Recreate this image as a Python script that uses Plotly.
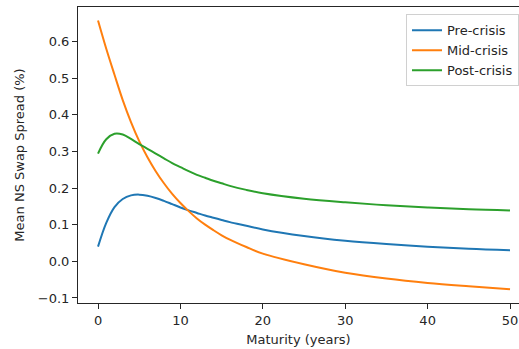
import plotly.graph_objects as go

maturity = [0, 1, 2, 3, 4, 5, 6, 7, 8, 9, 10, 11, 12, 13, 14, 15, 16, 18, 20, 25, 30, 35, 40, 45, 50]
pre_crisis = [0.040, 0.105, 0.148, 0.170, 0.180, 0.182, 0.179, 0.173, 0.165, 0.156, 0.147, 0.139, 0.132, 0.125, 0.119, 0.113, 0.107, 0.097, 0.087, 0.069, 0.056, 0.047, 0.040, 0.034, 0.030]
mid_crisis = [0.657, 0.580, 0.509, 0.440, 0.380, 0.328, 0.284, 0.246, 0.213, 0.184, 0.159, 0.137, 0.117, 0.100, 0.085, 0.071, 0.059, 0.039, 0.021, -0.008, -0.031, -0.047, -0.059, -0.068, -0.076]
post_crisis = [0.294, 0.333, 0.348, 0.346, 0.334, 0.320, 0.307, 0.294, 0.281, 0.268, 0.257, 0.246, 0.236, 0.228, 0.220, 0.213, 0.206, 0.195, 0.186, 0.171, 0.161, 0.153, 0.147, 0.142, 0.139]

series = [
    ("Pre-crisis", pre_crisis, "#1f77b4"),
    ("Mid-crisis", mid_crisis, "#ff7f0e"),
    ("Post-crisis", post_crisis, "#2ca02c"),
]

fig = go.Figure()
for name, vals, color in series:
    fig.add_trace(go.Scatter(x=maturity, y=vals, name=name, mode="lines",
                             line=dict(color=color, width=2, shape="spline", smoothing=1.0)))

txt = "#262626"
fig.update_layout(
    width=519, height=349,
    margin=dict(l=78, r=0, t=7, b=46),
    paper_bgcolor="white", plot_bgcolor="white",
    font=dict(family="DejaVu Sans", size=13, color=txt),
    showlegend=True,
    legend=dict(x=1, xanchor="right", y=0.975, yanchor="top",
                bgcolor="rgba(255,255,255,0.8)", bordercolor="#d0d0d0", borderwidth=1,
                font=dict(family="DejaVu Sans", size=13, color=txt),
                tracegroupgap=0, itemwidth=30),
    xaxis=dict(range=[-2.43, 51.09], tickvals=[0, 10, 20, 30, 40, 50],
               showgrid=False, zeroline=False, showline=True, linecolor=txt,
               linewidth=1, mirror=True, ticks="outside", ticklen=5, tickcolor=txt,
               tickfont=dict(family="DejaVu Sans", size=13, color=txt),
               title=dict(text="Maturity (years)", standoff=8,
                          font=dict(family="DejaVu Sans", size=13, color=txt))),
    yaxis=dict(range=[-0.1137, 0.694], tickvals=[-0.1, 0.0, 0.1, 0.2, 0.3, 0.4, 0.5, 0.6],
               tickformat=".1f",
               showgrid=False, zeroline=False, showline=True, linecolor=txt,
               linewidth=1, ticks="outside", ticklen=5, tickcolor=txt,
               tickfont=dict(family="DejaVu Sans", size=13, color=txt),
               title=dict(text="Mean NS Swap Spread (%)", standoff=10,
                          font=dict(family="DejaVu Sans", size=13, color=txt))),
)

fig.write_html("out.html")
